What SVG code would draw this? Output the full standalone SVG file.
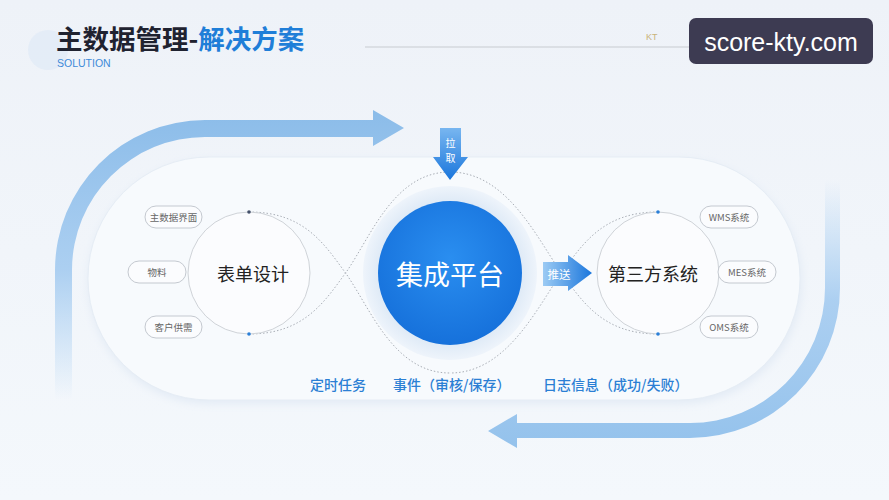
<svg xmlns="http://www.w3.org/2000/svg" width="889" height="500" viewBox="0 0 889 500">
<defs>
<linearGradient id="bg" x1="0" y1="0" x2="0" y2="1"><stop offset="0" stop-color="#eef2f8"/><stop offset="1" stop-color="#f4f8fc"/></linearGradient>
<linearGradient id="topArrow" x1="0" y1="1" x2="0" y2="0"><stop offset="0" stop-color="#a9cff2" stop-opacity="0"/><stop offset="0.45" stop-color="#a4cbf0" stop-opacity="0.9"/><stop offset="1" stop-color="#8bbce9"/></linearGradient>
<linearGradient id="botArrow" x1="0" y1="0" x2="0" y2="1"><stop offset="0" stop-color="#a9cff2" stop-opacity="0"/><stop offset="0.45" stop-color="#a4cbf0" stop-opacity="0.9"/><stop offset="1" stop-color="#94c2ec"/></linearGradient>
<linearGradient id="pull" x1="0" y1="0" x2="0" y2="1"><stop offset="0" stop-color="#78b6f0"/><stop offset="1" stop-color="#1a76dc"/></linearGradient>
<linearGradient id="push" x1="0" y1="0" x2="1" y2="0"><stop offset="0" stop-color="#9ccbf4"/><stop offset="1" stop-color="#1a76dc"/></linearGradient>
<radialGradient id="core" cx="0.5" cy="0.4" r="0.6"><stop offset="0" stop-color="#2a8ef0"/><stop offset="1" stop-color="#1671db"/></radialGradient>
<radialGradient id="halo" cx="0.5" cy="0.5" r="0.5"><stop offset="0.8" stop-color="#dde9f6"/><stop offset="1" stop-color="#eef4fb"/></radialGradient>
<filter id="soft" x="-10%" y="-20%" width="120%" height="140%"><feGaussianBlur stdDeviation="4"/></filter>
</defs>
<style>
.cjk{font-family:"Noto Sans CJK SC","Noto Sans",sans-serif}
.pill{fill:#fbfcfe;stroke:#c4c9d0;stroke-width:1}
.pilltxt{font-family:"Noto Sans CJK SC","Noto Sans",sans-serif;font-size:9.5px;fill:#666;text-anchor:middle;dominant-baseline:central}
.node{fill:#fbfcfe;stroke:#cfd3d8;stroke-width:1}
.nodetxt{font-family:"Noto Sans CJK SC","Noto Sans",sans-serif;font-size:18px;fill:#222;text-anchor:middle;dominant-baseline:central}
.dots{fill:none;stroke:#a9aeb6;stroke-width:1;stroke-dasharray:1.5 2}
.lbl{font-family:"Noto Sans CJK SC","Noto Sans",sans-serif;font-size:14px;fill:#2b7fd4;font-weight:500}
</style>
<rect width="889" height="500" fill="url(#bg)"/>
<circle cx="48" cy="50" r="20" fill="#dfeaf7" opacity="0.7"/>

<!-- header -->
<g id="title">
<text x="56" y="48.5" class="cjk" font-size="26.5" font-weight="700" fill="#1f2230">主数据管理-<tspan fill="#1f7ed8">解决方案</tspan></text>
<text x="57" y="67" font-family="Liberation Sans, sans-serif" font-size="10.5" fill="#3d8ad8">SOLUTION</text>
<line x1="365" y1="47" x2="700" y2="47" stroke="#d4d8de" stroke-width="1.5"/>
<text x="646" y="40" font-family="Liberation Sans, sans-serif" font-size="9" fill="#c9b27a">KT</text>
</g>
<g id="watermark">
<rect x="689" y="18" width="184" height="46" rx="7" fill="#3d3b52"/>
<text x="781" y="42" font-family="Liberation Sans, Arial, sans-serif" font-size="25" fill="#ffffff" text-anchor="middle" dominant-baseline="central">score-kty.com</text>
</g>

<!-- cycle arrows -->
<g id="cycle">
<path d="M55,400 L55,270 A150,150 0 0 1 205,120 L373,120 L373,110 L404,128 L373,146 L373,137 L205,137 A133,133 0 0 0 72,270 L72,400 Z" fill="url(#topArrow)"/>
<path d="M840,180 L840,288 A150,150 0 0 1 690,438 L517,438 L517,448 L488,431 L517,414 L517,423 L690,423 A135,135 0 0 0 825,288 L825,180 Z" fill="url(#botArrow)"/>
</g>

<!-- platform pill -->
<g id="platform">
<rect x="88" y="160" width="714" height="244" rx="122" fill="#e3ebf5" filter="url(#soft)"/>
<rect x="88" y="157" width="712" height="243" rx="121" fill="#f7fafd" stroke="#e6edf5" stroke-width="1"/>
</g>

<!-- connectors -->
<g id="connectors">
<path class="dots" d="M249,212 C305,212 325,245 347,275 C372,312 395,373 450,373"/>
<path class="dots" d="M249,334 C305,334 325,301 347,271 C372,234 395,172 450,172"/>
<path class="dots" d="M658,212 C602,212 582,245 560,275 C535,312 505,373 450,373"/>
<path class="dots" d="M658,334 C602,334 582,301 560,271 C535,234 505,172 450,172"/>
</g>

<g id="core-node">
<circle cx="450" cy="273" r="87" fill="url(#halo)"/>
<circle cx="450" cy="273" r="72" fill="url(#core)"/>
<text x="450" y="273" class="cjk" font-size="27" fill="#ffffff" text-anchor="middle" dominant-baseline="central">集成平台</text>
</g>

<g id="pull-arrow">
<path d="M440,128 L461,128 L461,157 L468,157 L450,180 L433,157 L440,157 Z" fill="url(#pull)"/>
<text x="450.5" y="142" class="cjk" font-size="10" fill="#ffffff" text-anchor="middle" dominant-baseline="central">拉</text>
<text x="450.5" y="157.5" class="cjk" font-size="10" fill="#ffffff" text-anchor="middle" dominant-baseline="central">取</text>
</g>

<g id="form-design">
<circle class="node" cx="249" cy="273" r="61"/>
<text class="nodetxt" x="253" y="273">表单设计</text>
<circle cx="249" cy="212" r="1.8" fill="#44506a"/>
<circle cx="249" cy="334" r="1.8" fill="#2a7fd8"/>
</g>

<g id="third-party">
<circle class="node" cx="658" cy="273" r="61"/>
<text class="nodetxt" x="653" y="273">第三方系统</text>
<circle cx="658" cy="212" r="1.8" fill="#2a7fd8"/>
<circle cx="658" cy="334" r="1.8" fill="#2a7fd8"/>
</g>

<g id="push-arrow">
<path d="M543,262 L568,262 L568,255 L592,273 L568,291 L568,286 L543,286 Z" fill="url(#push)"/>
<text x="559" y="274" class="cjk" font-size="11.5" fill="#ffffff" text-anchor="middle" dominant-baseline="central">推送</text>
</g>

<g id="pill-master"><rect class="pill" x="145" y="206" width="57" height="22" rx="11"/><text class="pilltxt" x="173.5" y="217">主数据界面</text></g>
<g id="pill-material"><rect class="pill" x="128" y="261" width="58" height="22" rx="11"/><text class="pilltxt" x="157" y="272">物料</text></g>
<g id="pill-customer"><rect class="pill" x="145" y="316" width="57" height="22" rx="11"/><text class="pilltxt" x="173.5" y="327">客户供需</text></g>
<g id="pill-wms"><rect class="pill" x="700" y="206" width="58" height="22" rx="11"/><text class="pilltxt" x="729" y="217">WMS系统</text></g>
<g id="pill-mes"><rect class="pill" x="718" y="261" width="58" height="22" rx="11"/><text class="pilltxt" x="747" y="272">MES系统</text></g>
<g id="pill-oms"><rect class="pill" x="700" y="316" width="58" height="22" rx="11"/><text class="pilltxt" x="729" y="327">OMS系统</text></g>

<g id="labels">
<text class="lbl" x="310" y="390">定时任务</text>
<text class="lbl" x="393" y="390">事件（审核/保存）</text>
<text class="lbl" x="543" y="390">日志信息（成功/失败）</text>
</g>
</svg>
